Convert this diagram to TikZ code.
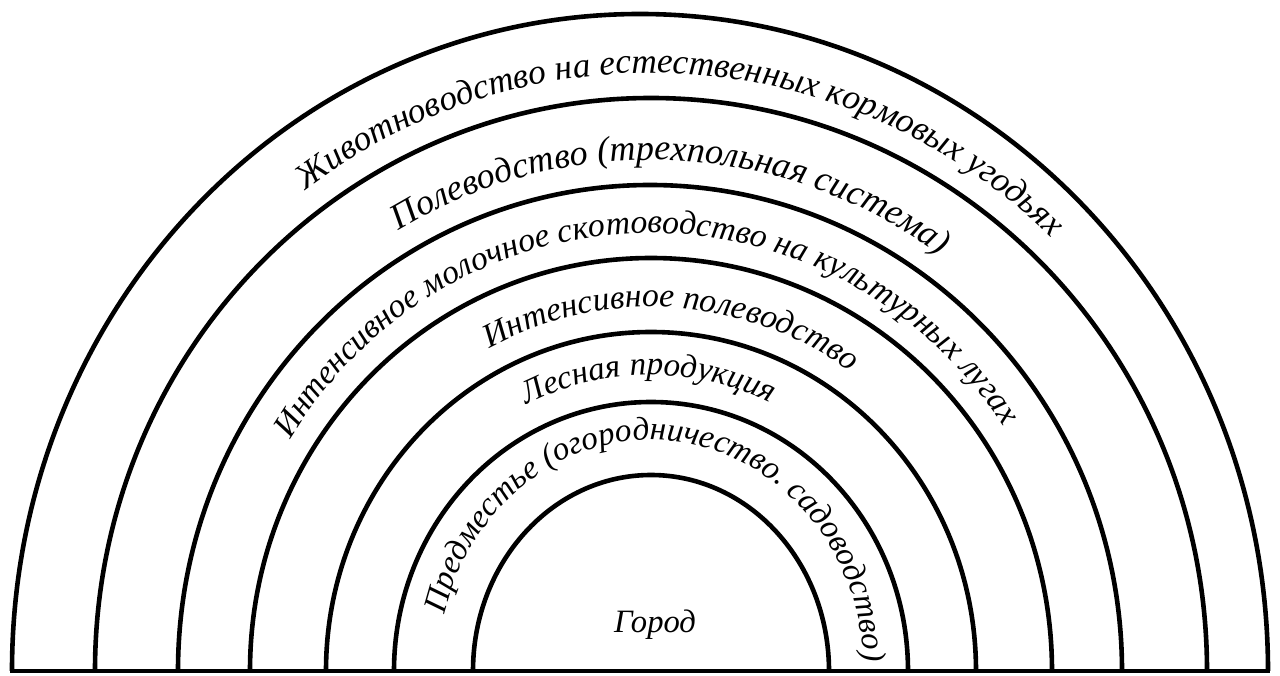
\documentclass[tikz,border=0pt]{standalone}
\usepackage{fontspec}
\setmainfont{Liberation Serif}
\usetikzlibrary{decorations.text}

\newcommand{\ringfont}{\fontsize{16.3}{20}\selectfont\itshape}
\tikzset{
  ring/.style={line width=2.3pt},
  ringtext/.style 2 args={decorate,
    decoration={text along path, text align=center,
      text={|\fontsize{#1}{20}\selectfont\itshape|#2}}}
}

\begin{document}
\begin{tikzpicture}[x=0.5pt,y=0.5pt]
  \useasboundingbox (0,0) rectangle (1280,675);
  % zone borders
  \draw[ring] (10,4) -- (1270,4);
  \draw[ring] (473,4) arc[start angle=180,end angle=0,x radius=178,y radius=196];
  \draw[ring] (394,4) arc[start angle=180,end angle=0,x radius=257,y radius=269];
  \draw[ring] (326,4) arc[start angle=180,end angle=0,x radius=325,y radius=339];
  \draw[ring] (250,4) arc[start angle=180,end angle=0,x radius=401,y radius=413];
  \draw[ring] (178,4) arc[start angle=180,end angle=0,x radius=472,y radius=486];
  \draw[ring] (95,4) arc[start angle=180,end angle=0,x radius=556,y radius=573];
  \draw[ring] (12,4) arc[start angle=180,end angle=0,x radius=628,y radius=657];
  % zone names
  \node[font=\ringfont,anchor=base] (city) at (655,43) {Город};
  \path[ringtext={16.5}{Предместье (огородничество. садоводство)}]
    (651,4) ++(180:213 and 231) arc[start angle=180,end angle=-12,x radius=213,y radius=231];
  \path[ringtext={16.5}{Лесная продукция}]
    (651,4) ++(170:284 and 296) arc[start angle=170,end angle=11,x radius=284,y radius=296];
  \path[ringtext={16.8}{Интенсивное полеводство}]
    (651,4) ++(170:350 and 364) arc[start angle=170,end angle=3,x radius=350,y radius=364];
  \path[ringtext={16.8}{Интенсивное молочное скотоводство на культурных лугах}]
    (651,4) ++(180:425 and 438) arc[start angle=180,end angle=2,x radius=425,y radius=438];
  \path[ringtext={18}{Полеводство (трехпольная система)}]
    (651,4) ++(170:497 and 511) arc[start angle=170,end angle=5,x radius=497,y radius=511];
  \path[ringtext={17.6}{Животноводство на естественных кормовых угодьях}]
    (651,4) ++(172:581 and 598) arc[start angle=172,end angle=1,x radius=581,y radius=598];
\end{tikzpicture}
\end{document}
